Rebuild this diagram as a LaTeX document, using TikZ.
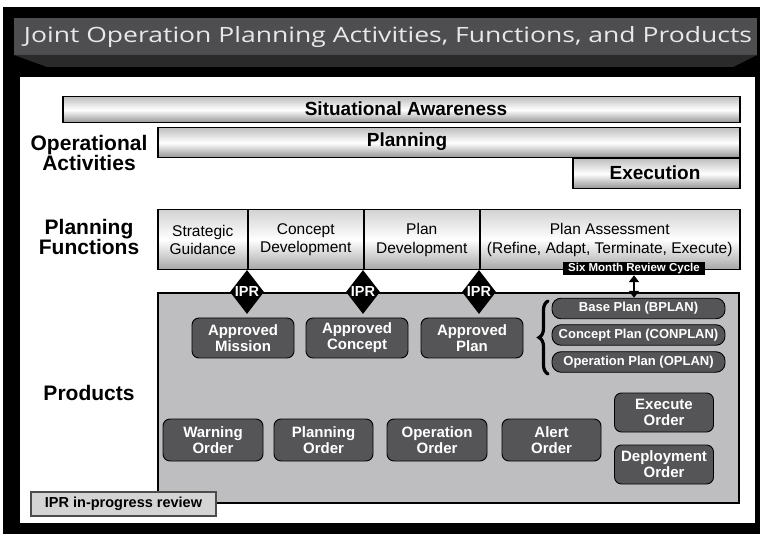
\documentclass[tikz,border=0pt]{standalone}
\usepackage{fontspec}
\setmainfont{Liberation Sans}
\newfontfamily\titlefont{Open Sans}
\usetikzlibrary{shapes.geometric,decorations.pathreplacing,arrows.meta}
\definecolor{titlegray}{RGB}{78,78,80}
\definecolor{bevelgray}{RGB}{42,42,42}
\definecolor{panelgray}{RGB}{190,190,192}
\definecolor{boxgray}{RGB}{85,85,87}
\definecolor{legendgray}{RGB}{212,212,212}
\definecolor{titletext}{RGB}{232,232,232}
\begin{document}
\begin{tikzpicture}[x=1pt,y=-1pt,
  sidelbl/.style={font=\fontsize{21}{18.5}\selectfont\bfseries, align=center, inner sep=0},
  actbar/.style={draw=black, line width=1.5pt, top color=gray!50, bottom color=gray!85, middle color=white, inner sep=0, anchor=north west},
  acttext/.style={font=\fontsize{19}{20}\selectfont\bfseries, inner sep=0},
  fcell/.style={draw=black, line width=1.5pt, top color=gray!35, bottom color=gray!70, middle color=white, inner sep=0, anchor=north west, minimum height=60pt, align=center, font=\fontsize{15.5}{18.5}\selectfont},
  appbox/.style={draw=black, line width=0.9pt, fill=boxgray, rounded corners=7pt, text=white, align=center, inner sep=0, font=\fontsize{15}{16}\selectfont\bfseries},
  planbox/.style={draw=black, line width=0.9pt, fill=boxgray, rounded corners=9pt, text=white, inner sep=0, minimum width=173pt, minimum height=20.5pt, font=\fontsize{13}{14}\selectfont\bfseries},
  iprdia/.style={shape=diamond, fill=black, inner sep=0, minimum width=34pt, minimum height=44pt},
  iprtext/.style={text=white, inner sep=0, font=\fontsize{14.5}{15}\selectfont\bfseries},
  bracestyle/.style={line width=3.2pt, line cap=round, decorate, decoration={brace, amplitude=9pt}},
]
\useasboundingbox (0,0) rectangle (760,534);
\fill[white] (0,0) rectangle (760,534);
% outer frame
\fill[black] (3,7) rectangle (760,534);
\fill[titlegray] (14,18) rectangle (757,55);
\fill[bevelgray] (14,55) -- (757,55) -- (733,67) -- (47,67) -- cycle;
\node[inner sep=0, text=titletext] (title) at (388,37.5)
  {\resizebox{728pt}{16pt}{\titlefont Joint Operation Planning Activities, Functions, and Products}};
\fill[white] (20,77) rectangle (755,523);

% operational activities
\node[actbar, minimum width=677pt, minimum height=26pt] (sa) at (62,96) {};
\node[acttext] (satext) at (406,109) {Situational Awareness};
\node[actbar, minimum width=582pt, minimum height=30pt] (plan) at (157,127) {};
\node[acttext] (plantext) at (407,142) {Planning};
\node[actbar, minimum width=167pt, minimum height=30pt] (exec) at (572,158) {};
\node[acttext] (exectext) at (655,173) {Execution};
\node[sidelbl] (oplbl) at (89,153) {Operational\\Activities};

% planning functions
\node[sidelbl] (pflbl) at (89,237) {Planning\\Functions};
\node[fcell, minimum width=90pt] (sg) at (157,209) {Strategic\\Guidance};
\node[fcell, minimum width=116pt] (cd) at (247,209) {Concept\\Development};
\node[fcell, minimum width=116pt] (pd) at (363,209) {Plan\\Development};
\node[fcell, minimum width=260pt] (pa) at (479,209) {Plan Assessment\\(Refine, Adapt, Terminate, Execute)};

% products panel
\node[draw=black, line width=2pt, fill=panelgray, inner sep=0, anchor=north west, minimum width=581pt, minimum height=210pt] (panel) at (157,292) {};
\node[sidelbl] (prodlbl) at (89,393) {Products};

% IPR diamonds
\node[iprdia] (d1) at (247,292) {};
\node[iprtext] (t1) at (d1) {IPR};
\node[iprdia] (d2) at (363,292) {};
\node[iprtext] (t2) at (d2) {IPR};
\node[iprdia] (d3) at (479,292) {};
\node[iprtext] (t3) at (d3) {IPR};

% approved products
\node[appbox, minimum width=102pt, minimum height=40pt] (am) at (243,338) {Approved\\Mission};
\node[appbox, minimum width=102pt, minimum height=40pt] (ac) at (357,338) {Approved\\Concept};
\node[appbox, minimum width=102pt, minimum height=40pt] (ap) at (472,338) {Approved\\Plan};

% plans
\node[planbox] (bplan) at (638.5,308.5) {Base Plan (BPLAN)};
\node[planbox] (conplan) at (638.5,335) {Concept Plan (CONPLAN)};
\node[planbox] (oplan) at (638.5,362) {Operation Plan (OPLAN)};
\coordinate (bracetop) at (548,301);
\coordinate (bracebot) at (548,374);
\draw[bracestyle] (bracebot) -- (bracetop);

% six month review cycle
\node[fill=black, text=white, inner sep=0, minimum width=142pt, minimum height=13pt, font=\fontsize{11.5}{12}\selectfont\bfseries] (six) at (634,268.5) {Six Month Review Cycle};
\draw[line width=1.8pt, {Triangle[width=10pt,length=7pt]}-{Triangle[width=10pt,length=7pt]}] (six.south) -- (six.south |- bplan.north);

% orders
\node[appbox, minimum width=100pt, minimum height=42pt] (wo) at (213,440) {Warning\\Order};
\node[appbox, minimum width=99pt, minimum height=42pt] (po) at (323.5,440) {Planning\\Order};
\node[appbox, minimum width=100pt, minimum height=42pt] (oo) at (437,440) {Operation\\Order};
\node[appbox, minimum width=99pt, minimum height=42pt] (alo) at (551.5,440) {Alert\\Order};
\node[appbox, minimum width=99pt, minimum height=39pt] (eo) at (664,412.5) {Execute\\Order};
\node[appbox, minimum width=99pt, minimum height=39pt] (do) at (664,464.5) {Deployment\\Order};

% legend
\node[draw=black!70, line width=1.3pt, fill=legendgray, inner sep=0, minimum width=185pt, minimum height=24pt, font=\fontsize{14.5}{15}\selectfont\bfseries] (legend) at (123.5,504) {IPR in-progress review};
\end{tikzpicture}
\end{document}
